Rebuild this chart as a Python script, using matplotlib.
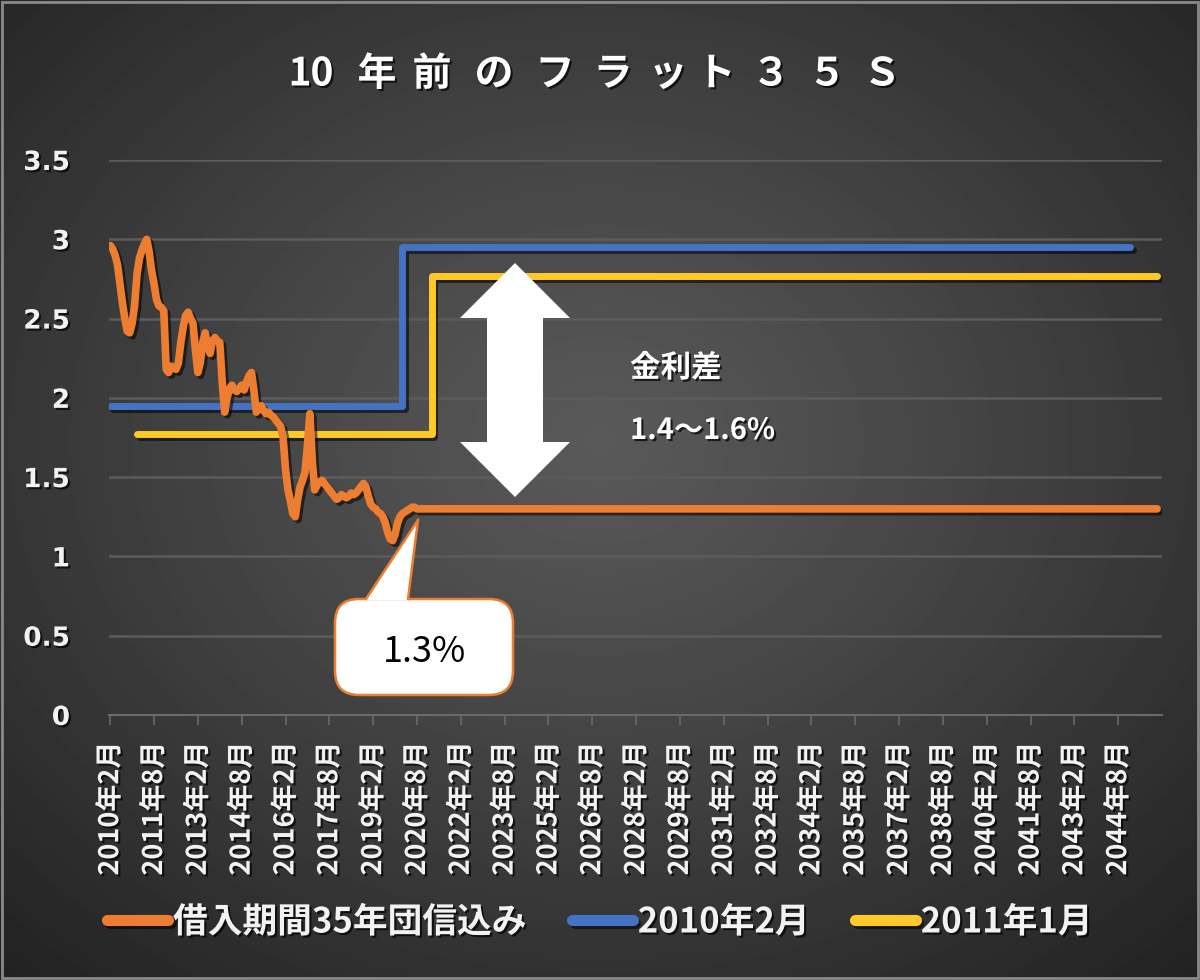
import numpy as np
import matplotlib
matplotlib.use("Agg")
import matplotlib.pyplot as plt
import matplotlib.patheffects as pe
from matplotlib.patches import Polygon, FancyBboxPatch, Rectangle

plt.rcParams['font.family'] = ['Noto Sans CJK JP', 'DejaVu Sans']

W, H = 1200, 980

# --- data (x = months since 2010年2月) ---
title_chars = ["1", "0", "年", "前", "の", "フ", "ラ", "ッ", "ト", "３", "５", "Ｓ"]

# 借入期間35年団信込み, monthly 2010-02 .. 2020-08, then flat 1.3 until 2045-12
orange_2010 = [2.96, 2.94, 2.90, 2.84, 2.72, 2.60, 2.50, 2.42, 2.41, 2.47, 2.58]
orange_2011 = [2.78, 2.88, 2.93, 2.97, 3.00, 2.92, 2.80, 2.72, 2.62, 2.58, 2.57, 2.55]
orange_2012 = [2.18, 2.16, 2.20, 2.19, 2.18, 2.22, 2.35, 2.45, 2.52, 2.54, 2.50, 2.47]
orange_2013 = [2.30, 2.16, 2.22, 2.35, 2.41, 2.33, 2.28, 2.36, 2.38, 2.36, 2.35, 2.10]
orange_2014 = [1.91, 2.00, 2.06, 2.08, 2.05, 2.04, 2.06, 2.08, 2.05, 2.10, 2.14, 2.16]
orange_2015 = [2.05, 1.91, 1.93, 1.95, 1.92, 1.90, 1.91, 1.89, 1.88, 1.86, 1.84, 1.82]
orange_2016 = [1.75, 1.55, 1.42, 1.35, 1.27, 1.25, 1.36, 1.44, 1.48, 1.53, 1.70, 1.90]
orange_2017 = [1.60, 1.42, 1.45, 1.47, 1.48, 1.46, 1.44, 1.42, 1.40, 1.38, 1.36, 1.37]
orange_2018 = [1.39, 1.38, 1.37, 1.38, 1.40, 1.39, 1.40, 1.42, 1.44, 1.46, 1.44, 1.38]
orange_2019 = [1.33, 1.31, 1.30, 1.28, 1.27, 1.25, 1.21, 1.15, 1.11, 1.10, 1.14, 1.21]
orange_2020 = [1.25, 1.27, 1.28, 1.29, 1.30, 1.31, 1.31, 1.30]
orange_end_month = 430
orange_end_rate = 1.30

# 2010年2月 loan: step at 10 years
blue_months = [0, 120, 419]
blue_rates = [1.95, 2.95, 2.95]
# 2011年1月 loan
yellow_months = [11, 132, 430]
yellow_rates = [1.77, 2.77, 2.77]

tick_months = list(range(0, 415, 18))
tick_labels = ["2010年2月", "2011年8月", "2013年2月", "2014年8月", "2016年2月", "2017年8月",
               "2019年2月", "2020年8月", "2022年2月", "2023年8月", "2025年2月", "2026年8月",
               "2028年2月", "2029年8月", "2031年2月", "2032年8月", "2034年2月", "2035年8月",
               "2037年2月", "2038年8月", "2040年2月", "2041年8月", "2043年2月", "2044年8月"]
y_ticks = [0, 0.5, 1, 1.5, 2, 2.5, 3, 3.5]
y_labels = ["0", "0.5", "1", "1.5", "2", "2.5", "3", "3.5"]

series_names = ["借入期間35年団信込み", "2010年2月", "2011年1月"]
c_orange, c_blue, c_yellow = "#ED7D31", "#4472C4", "#FFCA28"

orange_rates = (orange_2010 + orange_2011 + orange_2012 + orange_2013 + orange_2014 + orange_2015
                + orange_2016 + orange_2017 + orange_2018 + orange_2019 + orange_2020)
orange_months = list(range(len(orange_rates))) + [orange_end_month]
orange_rates = orange_rates + [orange_end_rate]


def px(x, y):
    return x / W, 1 - y / H


fig = plt.figure(figsize=(W / 100, H / 100), dpi=100)

# radial dark background
bg = fig.add_axes([0, 0, 1, 1], zorder=-10)
gx, gy = np.meshgrid(np.linspace(0, 1, 300), np.linspace(0, 1, 300))
r = np.sqrt(((gx - 0.5) / 0.75) ** 2 + ((gy - 0.45) / 0.75) ** 2)
shade = 0.35 - 0.22 * np.clip(r, 0, 1) ** 1.1
bg.imshow(shade, cmap="gray", vmin=0, vmax=1, extent=[0, 1, 0, 1], aspect="auto")
bg.set_axis_off()
fig.patches.append(Rectangle((0.002, 0.002), 0.996, 0.996, transform=fig.transFigure,
                             fill=False, edgecolor="#8a8a8a", linewidth=2))

ax = fig.add_axes([109 / W, 1 - 715 / H, (1162 - 109) / W, 555 / H])
ax.set_facecolor("none")
ax.set_xlim(-0.5, 432)
ax.set_ylim(0, 3.5)

shadow = [pe.SimpleLineShadow(offset=(2, -2), shadow_color="black", alpha=0.55), pe.Normal()]
ax.plot(orange_months, orange_rates, color=c_orange, lw=5.5, solid_capstyle="round",
        solid_joinstyle="round", label=series_names[0], path_effects=shadow, zorder=4)
ax.plot(blue_months, blue_rates, color=c_blue, lw=5, drawstyle="steps-post", solid_capstyle="round",
        label=series_names[1], path_effects=shadow, zorder=3)
ax.plot(yellow_months, yellow_rates, color=c_yellow, lw=5, drawstyle="steps-post", solid_capstyle="round",
        label=series_names[2], path_effects=shadow, zorder=3)

for s in ["top", "right", "left"]:
    ax.spines[s].set_visible(False)
ax.spines["bottom"].set_color("#6a6a6a")
ax.spines["bottom"].set_linewidth(1.5)
ax.grid(axis="y", color="#5c5c5c", linewidth=1.8)
ax.set_yticks(y_ticks, y_labels)
ax.set_xticks(tick_months, tick_labels, rotation=90)
ax.tick_params(axis="y", length=0, pad=28)
ax.tick_params(axis="x", color="#6a6a6a", length=7, width=1.2, pad=12)

txt_shadow = [pe.withSimplePatchShadow(offset=(1.5, -1.5), shadow_rgbFace="black", alpha=0.7)]
for lab in ax.get_yticklabels():
    lab.set_fontsize(19)
    lab.set_fontweight("bold")
    lab.set_color("#f2f2f2")
    lab.set_family(["DejaVu Sans"])
    lab.set_ha("right")
    lab.set_path_effects(txt_shadow)
for lab in ax.get_xticklabels():
    lab.set_fontsize(19.5)
    lab.set_fontweight("bold")
    lab.set_color("#f2f2f2")
    lab.set_va("top")
    lab.set_path_effects(txt_shadow)

# title, spaced characters
title_x = [300, 322, 377, 432, 494, 555, 613, 668, 716, 771, 827, 882]
for ch, xx in zip(title_chars, title_x):
    fig.text(*px(xx, 74), ch, ha="center", va="center", fontsize=28, fontweight="bold",
             color="white", path_effects=txt_shadow)

# white double arrow
arrow_px = [(515, 263), (570, 318), (543, 318), (543, 442), (570, 442), (515, 497),
            (460, 442), (487, 442), (487, 318), (460, 318)]
fig.patches.append(Polygon([px(a, b) for a, b in arrow_px], closed=True, transform=fig.transFigure,
                           facecolor="white", edgecolor="none", zorder=6))

fig.text(*px(630, 368), "金利差", ha="left", va="center", fontsize=22, fontweight="bold", color="white",
         path_effects=txt_shadow)
fig.text(*px(630, 430), "1.4～1.6%", ha="left", va="center", fontsize=21, fontweight="bold", color="white",
         path_effects=txt_shadow)

# callout for 1.3%
x0, y0 = px(335, 695)
x1, y1 = px(513, 599)
fig.patches.append(FancyBboxPatch((x0, y0), x1 - x0, y1 - y0, boxstyle="round,pad=0,rounding_size=0.02",
                                  transform=fig.transFigure, facecolor="white", edgecolor=c_orange,
                                  linewidth=1.8, zorder=7, mutation_aspect=W / H))
tri = [px(366, 600.5), px(418, 520), px(408, 600.5)]
fig.patches.append(Polygon(tri, closed=True, transform=fig.transFigure, facecolor="white",
                           edgecolor="none", zorder=8))
for a in [(366, 599), (408, 599)]:
    xa, ya = px(*a)
    xt, yt = px(418, 520)
    fig.add_artist(plt.Line2D([xa, xt], [ya, yt], transform=fig.transFigure, color=c_orange,
                              linewidth=1.8, zorder=9))
fig.text(*px(424, 652), "1.3%", ha="center", va="center", fontsize=26, color="black", zorder=10)

leg = fig.legend(loc="center", bbox_to_anchor=(0.5, 1 - 922 / H), ncol=3, frameon=False,
                 fontsize=25, handlelength=1.75, handletextpad=0.15, columnspacing=1.3)
for t in leg.get_texts():
    t.set_color("#f2f2f2")
    t.set_fontweight("bold")
    t.set_path_effects(txt_shadow)
for h in leg.get_lines():
    h.set_linewidth(8)
    h.set_solid_capstyle("round")

fig.savefig("out.png", dpi=100)
